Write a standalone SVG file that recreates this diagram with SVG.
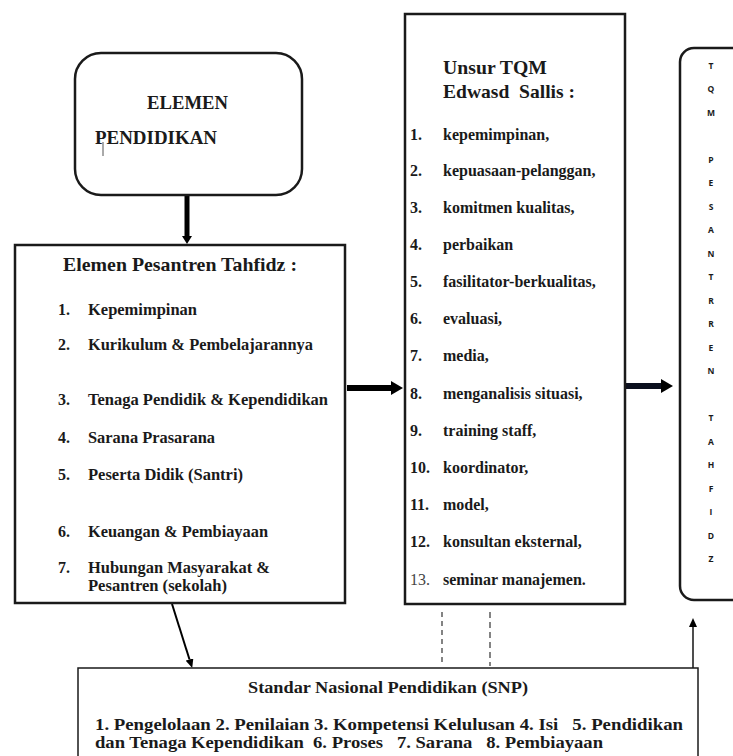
<svg xmlns="http://www.w3.org/2000/svg" width="733" height="756" viewBox="0 0 733 756">
<style>
.box{fill:#fff;stroke:#1a1a1a;stroke-width:2.5}
.thin{fill:#fff;stroke:#1a1a1a;stroke-width:1.5}
.t{font-family:'Liberation Serif','DejaVu Serif','Times New Roman',serif;font-weight:700;fill:#1a1a1a}
.s{font-family:'Open Sans','Liberation Sans',sans-serif;font-weight:700;font-size:8.5px;fill:#1a1a1a;text-anchor:middle}
.i{font-size:16px}
.h{font-size:19px}
</style>
<defs>
<marker id="big" markerUnits="userSpaceOnUse" markerWidth="12" markerHeight="14" viewBox="0 0 12 14" refX="0" refY="7" orient="auto"><path d="M0,0 L12,7 L0,14 z" fill="#000"/></marker>
<marker id="mid" markerUnits="userSpaceOnUse" markerWidth="8" markerHeight="10" viewBox="0 0 8 10" refX="0" refY="5" orient="auto"><path d="M0,0 L8,5 L0,10 z" fill="#000"/></marker>
<marker id="sm" markerUnits="userSpaceOnUse" markerWidth="9" markerHeight="8" viewBox="0 0 9 8" refX="0" refY="4" orient="auto"><path d="M0,0 L9,4 L0,8 z" fill="#000"/></marker>
</defs>
<rect width="733" height="756" fill="#fff"/>

<g id="connectors">
<line x1="187" y1="196" x2="187" y2="236" stroke="#000" stroke-width="5" marker-end="url(#mid)"/>
<line x1="347" y1="388" x2="391" y2="388" stroke="#000" stroke-width="6" marker-end="url(#big)"/>
<line x1="626" y1="386" x2="661" y2="386" stroke="#0b0f1e" stroke-width="6" marker-end="url(#big)"/>
<line x1="172" y1="604" x2="189.5" y2="659.5" stroke="#000" stroke-width="2" marker-end="url(#sm)"/>
<line x1="693" y1="668" x2="693" y2="627" stroke="#222" stroke-width="1.6" marker-end="url(#sm)"/>
<line x1="442" y1="612" x2="442" y2="666" stroke="#333" stroke-width="1.2" stroke-dasharray="5,4"/>
<line x1="490" y1="612" x2="490" y2="666" stroke="#333" stroke-width="1.2" stroke-dasharray="6,4"/>
</g>

<g id="elemen-pendidikan">
<rect class="box" x="75" y="53" width="227" height="142" rx="26"/>
<text class="t" x="147" y="109" font-size="18" textLength="81" lengthAdjust="spacingAndGlyphs">ELEMEN</text>
<text class="t" x="95" y="144" font-size="18" textLength="122" lengthAdjust="spacingAndGlyphs">PENDIDIKAN</text>
<line x1="103" y1="142" x2="103" y2="156" stroke="#555" stroke-width="1"/>
</g>

<g id="elemen-pesantren">
<rect class="box" x="15" y="245" width="330" height="358"/>
<text class="t h" x="63" y="271" textLength="234" lengthAdjust="spacingAndGlyphs">Elemen Pesantren Tahfidz :</text>
<g class="t i">
<text x="58" y="315">1.</text><text x="88" y="315" textLength="109" lengthAdjust="spacingAndGlyphs">Kepemimpinan</text>
<text x="58" y="350">2.</text><text x="88" y="350" textLength="225" lengthAdjust="spacingAndGlyphs">Kurikulum &amp; Pembelajarannya</text>
<text x="58" y="405">3.</text><text x="88" y="405" textLength="240" lengthAdjust="spacingAndGlyphs">Tenaga Pendidik &amp; Kependidikan</text>
<text x="58" y="443">4.</text><text x="88" y="443" textLength="127" lengthAdjust="spacingAndGlyphs">Sarana Prasarana</text>
<text x="58" y="480">5.</text><text x="88" y="480" textLength="155" lengthAdjust="spacingAndGlyphs">Peserta Didik (Santri)</text>
<text x="58" y="537">6.</text><text x="88" y="537" textLength="180" lengthAdjust="spacingAndGlyphs">Keuangan &amp; Pembiayaan</text>
<text x="58" y="573">7.</text><text x="88" y="573" textLength="182" lengthAdjust="spacingAndGlyphs">Hubungan Masyarakat &amp;</text>
<text x="88" y="591" textLength="139" lengthAdjust="spacingAndGlyphs">Pesantren (sekolah)</text>
</g>
</g>

<g id="unsur-tqm">
<rect class="box" x="405" y="14" width="220" height="590"/>
<text class="t h" x="443" y="74" textLength="104" lengthAdjust="spacingAndGlyphs">Unsur TQM</text>
<text class="t h" x="443" y="98" textLength="132" lengthAdjust="spacingAndGlyphs" xml:space="preserve">Edwasd  Sallis :</text>
<g class="t i">
<text x="410" y="140">1.</text><text x="443" y="140">kepemimpinan,</text>
<text x="410" y="176">2.</text><text x="443" y="176">kepuasaan-pelanggan,</text>
<text x="410" y="213">3.</text><text x="443" y="213">komitmen kualitas,</text>
<text x="410" y="250">4.</text><text x="443" y="250">perbaikan</text>
<text x="410" y="287">5.</text><text x="443" y="287">fasilitator-berkualitas,</text>
<text x="410" y="324">6.</text><text x="443" y="324">evaluasi,</text>
<text x="410" y="361">7.</text><text x="443" y="361">media,</text>
<text x="410" y="399">8.</text><text x="443" y="399">menganalisis situasi,</text>
<text x="410" y="436">9.</text><text x="443" y="436">training staff,</text>
<text x="410" y="473">10.</text><text x="443" y="473">koordinator,</text>
<text x="410" y="510">11.</text><text x="443" y="510">model,</text>
<text x="410" y="547">12.</text><text x="443" y="547">konsultan eksternal,</text>
<text x="410" y="585" font-weight="normal" fill="#444">13.</text><text x="443" y="585">seminar manajemen.</text>
</g>
</g>

<g id="tqm-pesantren-tahfidz">
<rect class="box" x="680" y="48" width="80" height="552" rx="14" stroke-width="2"/>
<text class="s" x="711" y="68.5">T</text>
<text class="s" x="711" y="92">Q</text>
<text class="s" x="711" y="115.5">M</text>
<text class="s" x="711" y="162.5">P</text>
<text class="s" x="711" y="186">E</text>
<text class="s" x="711" y="209.5">S</text>
<text class="s" x="711" y="233">A</text>
<text class="s" x="711" y="256.5">N</text>
<text class="s" x="711" y="280">T</text>
<text class="s" x="711" y="303.5">R</text>
<text class="s" x="711" y="327">R</text>
<text class="s" x="711" y="350.5">E</text>
<text class="s" x="711" y="374">N</text>
<text class="s" x="711" y="421">T</text>
<text class="s" x="711" y="444.5">A</text>
<text class="s" x="711" y="468">H</text>
<text class="s" x="711" y="491.5">F</text>
<text class="s" x="711" y="515">I</text>
<text class="s" x="711" y="538.5">D</text>
<text class="s" x="711" y="562">Z</text>
</g>

<g id="snp">
<rect class="thin" x="78" y="668" width="620" height="110"/>
<text class="t" x="248" y="693" font-size="16" textLength="280" lengthAdjust="spacingAndGlyphs">Standar Nasional Pendidikan (SNP)</text>
<text class="t" x="95" y="730" font-size="16" textLength="588" lengthAdjust="spacingAndGlyphs" xml:space="preserve">1. Pengelolaan 2. Penilaian 3. Kompetensi Kelulusan 4. Isi   5. Pendidikan</text>
<text class="t" x="95" y="748" font-size="16" textLength="508" lengthAdjust="spacingAndGlyphs" xml:space="preserve">dan Tenaga Kependidikan  6. Proses   7. Sarana   8. Pembiayaan</text>
</g>
</svg>
